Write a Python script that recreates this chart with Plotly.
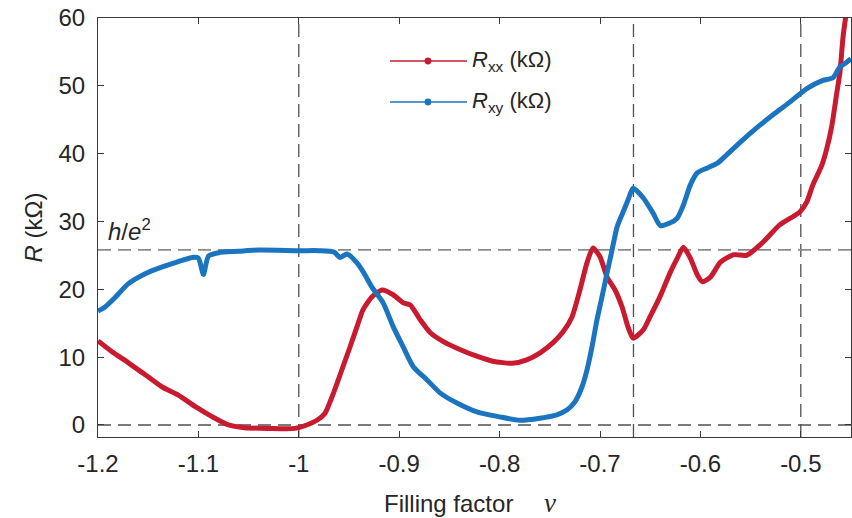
import plotly.graph_objects as go

# Longitudinal resistance R_xx (kOhm) versus filling factor
nu_xx = [-1.200, -1.186, -1.170, -1.153, -1.136, -1.120, -1.103, -1.086, -1.070, -1.054,
         -1.030, -1.004, -0.992, -0.982, -0.974, -0.967, -0.962, -0.956, -0.949, -0.942,
         -0.936, -0.927, -0.917, -0.906, -0.896, -0.889, -0.879, -0.869, -0.856, -0.839,
         -0.822, -0.807, -0.787, -0.773, -0.760, -0.747, -0.737, -0.728, -0.720, -0.713,
         -0.707, -0.700, -0.693, -0.685, -0.678, -0.672, -0.667, -0.657, -0.650, -0.640,
         -0.630, -0.623, -0.617, -0.610, -0.603, -0.598, -0.590, -0.580, -0.567, -0.554,
         -0.538, -0.521, -0.508, -0.501, -0.494, -0.488, -0.479, -0.474, -0.469, -0.464,
         -0.461, -0.458, -0.455, -0.450]
r_xx = [12.4, 10.8, 9.2, 7.4, 5.6, 4.4, 2.7, 1.2, 0.0, -0.4,
        -0.5, -0.5, 0.0, 0.7, 1.7, 4.1, 6.1, 8.6, 11.5, 14.5,
        17.0, 18.9, 19.9, 19.2, 18.0, 17.7, 15.5, 13.6, 12.3, 11.1,
        10.1, 9.4, 9.1, 9.6, 10.6, 12.1, 13.7, 15.9, 19.9, 23.9,
        26.1, 24.8, 21.8, 19.9, 17.4, 14.4, 12.8, 14.0, 16.0, 19.0,
        22.5, 24.6, 26.2, 24.6, 22.1, 21.1, 21.8, 24.0, 25.1, 25.0,
        26.9, 29.5, 30.7, 31.4, 32.9, 35.4, 38.3, 40.8, 44.2, 49.1,
        52.0, 57.1, 60.5, 66.0]

# Hall resistance R_xy (kOhm) versus filling factor
nu_xy = [-1.200, -1.193, -1.183, -1.170, -1.153, -1.136, -1.120, -1.106, -1.100, -1.095,
         -1.090, -1.080, -1.060, -1.040, -1.000, -0.980, -0.965, -0.959, -0.952, -0.942,
         -0.936, -0.927, -0.916, -0.906, -0.896, -0.886, -0.872, -0.859, -0.842, -0.822,
         -0.800, -0.780, -0.760, -0.743, -0.733, -0.725, -0.718, -0.713, -0.708, -0.703,
         -0.698, -0.693, -0.688, -0.683, -0.677, -0.672, -0.667, -0.657, -0.647, -0.640,
         -0.630, -0.623, -0.617, -0.610, -0.603, -0.593, -0.583, -0.574, -0.561, -0.544,
         -0.528, -0.511, -0.494, -0.478, -0.468, -0.461, -0.455, -0.450]
r_xy = [16.8, 17.4, 18.8, 20.8, 22.3, 23.3, 24.1, 24.7, 24.6, 22.2,
        24.9, 25.4, 25.6, 25.8, 25.7, 25.7, 25.5, 24.7, 25.2, 23.9,
        22.6, 20.3, 18.0, 14.5, 11.5, 8.6, 6.6, 4.7, 3.2, 1.9,
        1.2, 0.7, 1.0, 1.5, 2.2, 3.4, 5.6, 8.1, 11.5, 15.5,
        18.9, 22.4, 25.8, 29.2, 31.4, 33.2, 34.9, 33.5, 31.2, 29.4,
        29.8, 30.5, 32.4, 35.4, 37.2, 37.9, 38.6, 39.8, 41.6, 43.8,
        45.7, 47.6, 49.6, 50.8, 51.2, 52.8, 53.4, 54.0]

x_ticks = [-1.2, -1.1, -1.0, -0.9, -0.8, -0.7, -0.6, -0.5]
x_tick_text = ["-1.2", "-1.1", "-1", "-0.9", "-0.8", "-0.7", "-0.6", "-0.5"]
y_ticks = [0, 10, 20, 30, 40, 50, 60]

nu_marks = [-1.0, -2 / 3, -0.5]   # dashed verticals
h_over_e2 = 25.81                  # von Klitzing constant in kOhm

RED = "#C81B2F"
BLUE = "#1B74BF"
INK = "#262626"
FONT = "Liberation Sans, Arial, sans-serif"

fig = go.Figure()
fig.add_trace(go.Scatter(x=nu_xx, y=r_xx, mode="lines",
                         line=dict(color=RED, width=5, shape="spline", smoothing=0.6),
                         showlegend=False))
fig.add_trace(go.Scatter(x=nu_xy, y=r_xy, mode="lines",
                         line=dict(color=BLUE, width=5, shape="spline", smoothing=0.6),
                         showlegend=False))

# reference lines
for v in nu_marks:
    fig.add_shape(type="line", xref="x", yref="paper", x0=v, x1=v, y0=0, y1=1,
                  line=dict(color="#505050", width=1.3, dash="13px,7px"), layer="below")
fig.add_shape(type="line", xref="paper", yref="y", x0=0, x1=1, y0=0, y1=0,
              line=dict(color="#505050", width=1.3, dash="13px,7px"), layer="below")
fig.add_shape(type="line", xref="paper", yref="y", x0=0, x1=1, y0=h_over_e2, y1=h_over_e2,
              line=dict(color="#8a8a8a", width=1.6, dash="13px,7px"), layer="below")

fig.add_annotation(x=-1.192, y=26.2, xref="x", yref="y", xanchor="left", yanchor="bottom",
                   text="<i>h</i>/<i>e</i><sup>2</sup>", showarrow=False,
                   font=dict(family=FONT, size=24, color=INK))

# legend drawn as line + dot + label
legend_rows = [(0.8974, RED, "<i>R</i><sub>xx</sub> (kΩ)"),
               (0.7995, BLUE, "<i>R</i><sub>xy</sub> (kΩ)")]
for yp, col, label in legend_rows:
    fig.add_shape(type="line", xref="paper", yref="paper", x0=0.3878, x1=0.4900, y0=yp, y1=yp,
                  line=dict(color=col, width=1.6))
    fig.add_shape(type="circle", xref="paper", yref="paper",
                  x0=0.4382 - 0.0045, x1=0.4382 + 0.0045, y0=yp - 0.0081, y1=yp + 0.0081,
                  line=dict(color=col, width=0), fillcolor=col)
    fig.add_annotation(x=0.494, y=yp, xref="paper", yref="paper", xanchor="left", yanchor="middle",
                       text=label, showarrow=False, font=dict(family=FONT, size=22, color=INK))

# axis titles
fig.add_annotation(x=0.494, y=-0.157, xref="paper", yref="paper", xanchor="center", yanchor="middle",
                   text="Filling factor\u2003 <span style='font-family:Liberation Serif;font-size:27px'><i>ν</i></span>",
                   showarrow=False, font=dict(family=FONT, size=24, color=INK))
fig.add_annotation(x=-0.0863, y=0.5, xref="paper", yref="paper", xanchor="center", yanchor="middle",
                   text="<i>R</i> (kΩ)", textangle=-90, showarrow=False,
                   font=dict(family=FONT, size=24, color=INK))

axis_common = dict(showline=True, linecolor="#3a3a3a", linewidth=1.2, mirror="allticks",
                   ticks="inside", ticklen=6, tickcolor="#3a3a3a", showgrid=False,
                   zeroline=False, tickfont=dict(family=FONT, size=24, color=INK))
fig.update_xaxes(range=[-1.2, -0.45], tickvals=x_ticks, ticktext=x_tick_text,
                 ticklabelstandoff=5, **axis_common)
fig.update_yaxes(range=[-1.77, 60], tickvals=y_ticks, ticklabelstandoff=7, **axis_common)

fig.update_layout(width=852, height=518, margin=dict(l=98, r=1, t=18, b=81),
                  plot_bgcolor="white", paper_bgcolor="white", showlegend=False)

fig.write_html("out.html")
